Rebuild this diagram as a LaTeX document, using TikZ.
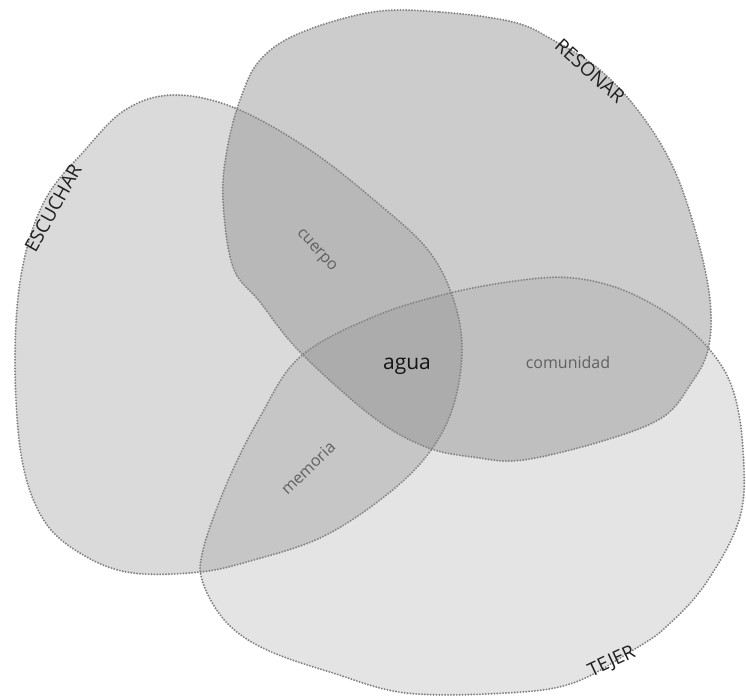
\documentclass[tikz,border=0pt]{standalone}
\usepackage{fontspec}
\setmainfont{Open Sans}
\begin{document}
\begin{tikzpicture}[x=1pt,y=-1pt,
  rim/.style={draw=rimgray,line width=2.2pt,line cap=round,dash pattern=on 0pt off 2.9pt},
  biglabel/.style={font=\fontsize{19}{21}\selectfont,text=black!88,inner sep=0pt},
  smalllabel/.style={font=\fontsize{16}{18}\selectfont,text=black!62,inner sep=0pt}]
\definecolor{rimgray}{HTML}{858585}
\definecolor{cE}{gray}{0.855}
\definecolor{cR}{gray}{0.80}
\definecolor{cT}{gray}{0.895}
\definecolor{cER}{gray}{0.72}
\definecolor{cET}{gray}{0.775}
\definecolor{cRT}{gray}{0.75}
\definecolor{cERT}{gray}{0.675}
\useasboundingbox (0,0) rectangle (746,700);
\def\escuchar{plot[smooth cycle,tension=0.6] coordinates{(173,95) (235,108) (310,150) (380,205) (428,250) (453,298) (462,350) (452,410) (425,458) (380,500) (320,538) (250,561) (200,572) (133,573) (85,556) (45,522) (22,460) (15,360) (22,270) (45,200) (85,150) (125,110)}}
\def\resonar{plot[smooth cycle,tension=0.6] coordinates{(373,12) (440,12) (513,22) (553,40) (600,70) (640,113) (673,167) (696,233) (710,300) (708,350) (690,385) (663,417) (606,440) (523,460) (473,457) (426,447) (373,417) (300,352) (260,302) (233,267) (223,200) (227,150) (240,100) (260,60) (300,33)}}
\def\tejer{plot[smooth cycle,tension=0.6] coordinates{(373,317) (450,293) (523,280) (573,278) (623,290) (673,317) (710,350) (733,390) (743,450) (740,517) (706,583) (666,627) (633,650) (573,683) (506,693) (406,693) (333,673) (267,650) (227,623) (203,583) (203,550) (227,483) (260,417) (300,357)}}
\fill[cE] \escuchar;
\fill[cR] \resonar;
\fill[cT] \tejer;
\begin{scope}\clip \escuchar; \fill[cER] \resonar;\end{scope}
\begin{scope}\clip \escuchar; \fill[cET] \tejer;\end{scope}
\begin{scope}\clip \resonar; \fill[cRT] \tejer;\end{scope}
\begin{scope}\clip \escuchar; \clip \resonar; \fill[cERT] \tejer;\end{scope}
\draw[rim] \escuchar;
\draw[rim] \resonar;
\draw[rim] \tejer;
\node[biglabel,rotate=61] (lesc) at (53,208) {ESCUCHAR};
\node[biglabel,rotate=-42] (lres) at (590,71) {RESONAR};
\node[biglabel,rotate=25] (ltej) at (612,662) {TEJER};
\node[smalllabel,rotate=-48] (lcue) at (316,251) {cuerpo};
\node[smalllabel,rotate=44] (lmem) at (308,468) {memoria};
\node[smalllabel] (lcom) at (568,362) {comunidad};
\node[font=\fontsize{21}{24}\selectfont,text=black!92,inner sep=0pt] (lagua) at (407,366) {agua};
\end{tikzpicture}
\end{document}
